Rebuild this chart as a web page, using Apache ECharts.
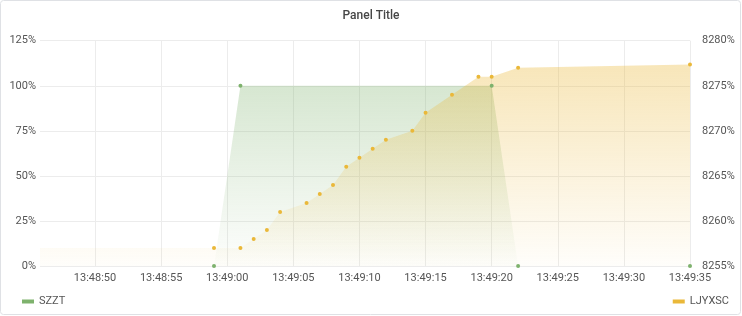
<!DOCTYPE html>
<html><head><meta charset="utf-8">
<script src="https://cdn.jsdelivr.net/npm/echarts@6/dist/echarts.min.js"></script>
<style>html,body{margin:0;padding:0;background:#fff;}#c{width:742px;height:316px;}</style>
</head><body><div id="c"></div>
<script>
var xMinTime = "13:48:45.84";
var xMaxTime = "13:49:35";
var xTickLabels = ["13:48:50","13:48:55","13:49:00","13:49:05","13:49:10","13:49:15","13:49:20","13:49:25","13:49:30","13:49:35"];
var szztTimes = ["13:48:59","13:49:01","13:49:20","13:49:22","13:49:35"];
var szztValues = [0, 100, 100, 0, 0];
var ljyxscTimes = ["13:48:40","13:48:59","13:49:01","13:49:02","13:49:03","13:49:04","13:49:06","13:49:07","13:49:08","13:49:09","13:49:10","13:49:11","13:49:12","13:49:14","13:49:15","13:49:17","13:49:19","13:49:20","13:49:22","13:49:35"];
var ljyxscValues = [8257, 8257, 8257, 8258, 8259, 8261, 8262, 8263, 8264, 8266, 8267, 8268, 8269, 8270, 8272, 8274, 8276, 8276, 8277, 8277.35];
var leftTicks = [0, 25, 50, 75, 100, 125];
var rightTicks = [8255, 8260, 8265, 8270, 8275, 8280];

function ts(s){var p=s.split(':');var sec=parseFloat(p[2]);return Date.UTC(2024,0,1,+p[0],+p[1],0)+Math.round(sec*1000);}
function pad(n){return (n<10?'0':'')+n;}
function zip(t,v){return t.map(function(x,i){return [ts(x),v[i]];});}
var tickVals = xTickLabels.map(ts);

var green='#7EB26D', yellow='#EAB839';
var lab={color:'#555',fontSize:11,fontFamily:'Roboto'};
var chart=echarts.init(document.getElementById('c'),null,{renderer:'canvas'});
chart.setOption({
  animation:false,
  textStyle:{fontFamily:'Roboto'},
  title:{text:'Panel Title',left:'center',top:5,textStyle:{fontSize:12,fontWeight:500,color:'#464646',fontFamily:'Roboto'}},
  graphic:[{type:'rect',shape:{x:0.5,y:0.5,width:740,height:314,r:3},style:{fill:'none',stroke:'#dfe1e5',lineWidth:1},silent:true,z:-10}],
  grid:{left:40,right:52,top:40.7,bottom:50,containLabel:false},
  legend:[
    {data:[{name:'SZZT'}],left:17,top:291,icon:'rect',itemWidth:12,itemHeight:4,itemGap:8,textStyle:{color:'#555',fontSize:11,fontFamily:'Roboto'}},
    {data:[{name:'LJYXSC'}],right:8,top:291,icon:'rect',itemWidth:12,itemHeight:4,itemGap:8,textStyle:{color:'#555',fontSize:11,fontFamily:'Roboto'}}
  ],
  xAxis:{type:'value',min:ts(xMinTime),max:ts(xMaxTime),
    axisLine:{show:false},axisTick:{show:false,customValues:tickVals},
    splitLine:{show:true,lineStyle:{color:'#ececec',width:1}},
    axisLabel:Object.assign({margin:7,hideOverlap:false,customValues:tickVals,formatter:function(v){var d=new Date(v);return pad(d.getUTCHours())+':'+pad(d.getUTCMinutes())+':'+pad(d.getUTCSeconds());}},lab)},
  yAxis:[
    {type:'value',min:leftTicks[0],max:leftTicks[leftTicks.length-1],interval:25,position:'left',
      axisLine:{show:false},axisTick:{show:false},
      splitLine:{show:true,lineStyle:{color:'#ececec'}},
      axisLabel:Object.assign({margin:4,formatter:function(v){return v+'%';}},lab)},
    {type:'value',min:rightTicks[0],max:rightTicks[rightTicks.length-1],interval:5,position:'right',
      axisLine:{show:false},axisTick:{show:false},splitLine:{show:false},
      axisLabel:Object.assign({margin:12,formatter:function(v){return v+'%';}},lab)}
  ],
  series:[
    {name:'SZZT',type:'line',yAxisIndex:0,data:zip(szztTimes,szztValues),showSymbol:true,symbol:'circle',symbolSize:4,
      itemStyle:{color:green},lineStyle:{width:0,color:green},
      areaStyle:{color:new echarts.graphic.LinearGradient(0,0,0,1,[{offset:0,color:'rgba(126,178,109,0.45)'},{offset:1,color:'rgba(126,178,109,0.02)'}])},clip:true},
    {name:'LJYXSC',type:'line',yAxisIndex:1,data:zip(ljyxscTimes,ljyxscValues),showSymbol:true,symbol:'circle',symbolSize:4,
      itemStyle:{color:yellow},lineStyle:{width:0,color:yellow},
      areaStyle:{color:new echarts.graphic.LinearGradient(0,0,0,1,[{offset:0,color:'rgba(234,184,57,0.5)'},{offset:1,color:'rgba(234,184,57,0.03)'}])},clip:true}
  ]
});
</script></body></html>
